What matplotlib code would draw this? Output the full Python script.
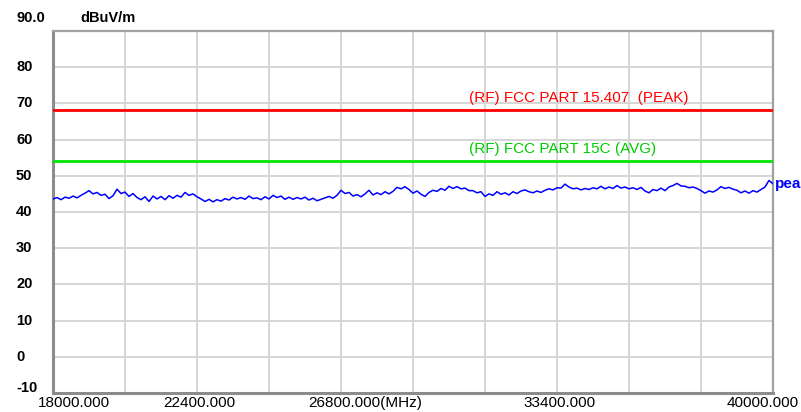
import numpy as np
import matplotlib.pyplot as plt

plt.rcParams['font.family'] = ['Liberation Sans', 'DejaVu Sans']

# sweep range (MHz) and measured peak trace (dBuV/m)
f_start, f_stop = 18000.0, 40000.0
peak = [
    43.6, 44.0, 43.4, 44.1, 43.8, 44.4, 43.9, 44.6, 45.2, 45.9,
    45.0, 45.4, 44.6, 44.9, 43.7, 44.5, 46.3, 45.1, 45.5, 44.3,
    45.1, 44.0, 43.4, 44.2, 42.9, 44.4, 43.6, 44.3, 43.4, 44.5,
    43.8, 44.6, 44.1, 45.4, 44.6, 45.0, 44.2, 43.6, 42.9, 43.5,
    42.8, 43.4, 43.0, 43.7, 43.3, 44.1, 43.6, 44.0, 43.5, 44.4,
    43.7, 43.9, 43.4, 44.2, 43.6, 44.6, 44.0, 44.4, 43.5, 44.1,
    43.5, 44.0, 43.6, 44.1, 43.3, 43.8, 43.1, 43.5, 43.9, 44.3,
    43.8, 44.6, 46.0, 45.1, 45.4, 44.4, 44.8, 44.2, 45.0, 46.0,
    44.7, 45.3, 44.8, 45.6, 45.0, 45.7, 46.8, 46.4, 47.0, 46.2,
    45.2, 45.8, 44.9, 44.3, 45.4, 46.0, 45.7, 46.5, 46.0, 47.1,
    46.5, 47.0, 46.4, 46.6, 45.9, 45.9, 45.3, 45.6, 44.3, 45.0,
    44.6, 45.6, 44.9, 45.3, 44.7, 45.6, 45.1, 45.8, 46.1, 45.6,
    45.3, 45.8, 45.4, 46.0, 46.4, 46.1, 46.7, 46.6, 47.7, 46.9,
    46.4, 46.6, 46.1, 46.5, 46.2, 46.7, 46.4, 47.1, 46.4, 46.9,
    46.5, 47.3, 46.6, 46.9, 46.4, 46.7, 46.2, 46.8, 45.8, 45.3,
    46.2, 45.9, 46.6, 45.9, 46.9, 47.3, 47.9, 47.2, 47.1, 46.7,
    46.9, 46.5, 45.9, 45.2, 45.8, 45.5, 46.1, 47.0, 46.5, 46.8,
    46.3, 46.0, 45.3, 45.8, 45.2, 45.9, 45.5, 46.2, 46.9, 48.7,
    47.8,
]
freq = np.linspace(f_start, f_stop, len(peak))

# limit lines
limit_peak = 68.2
limit_avg = 54.0
limit_peak_label = '(RF) FCC PART 15.407  (PEAK)'
limit_avg_label = '(RF) FCC PART 15C (AVG)'
limit_label_freq = 30700

y_ticks = [-10, 0, 10, 20, 30, 40, 50, 60, 70, 80, 90]
y_labels = ['-10', '0', '10', '20', '30', '40', '50', '60', '70', '80', '90.0']
x_label_pos = [18000, 22400, 26800, 33400, 40000]
x_labels = ['18000.000', '22400.000', '26800.000(MHz)', '33400.000', '40000.000']

fig = plt.figure(figsize=(8.01, 4.12), dpi=100)
ax = fig.add_axes([0.0662, 0.0461, 0.8988, 0.8787])

ax.set_xlim(f_start, f_stop)
ax.set_ylim(-10, 90)

# 10 x 10 grid
ax.set_xticks(np.linspace(f_start, f_stop, 11))
ax.set_yticks(y_ticks)
ax.grid(True, color='#d3d3d3', linewidth=1.3)
ax.tick_params(length=0, labelbottom=False, labelleft=False)
for side in ['left', 'bottom']:
    ax.spines[side].set_color('#8c8c8c')
    ax.spines[side].set_linewidth(2.2)
for side in ['top', 'right']:
    ax.spines[side].set_color('#a0a0a0')
    ax.spines[side].set_linewidth(1.6)

ax.axhline(limit_peak, color='#ff0000', linewidth=2.0, zorder=3)
ax.axhline(limit_avg, color='#00e600', linewidth=2.0, zorder=3)
ax.plot(freq, peak, color='#0000ff', linewidth=1.1, zorder=4)

ax.annotate(limit_peak_label, (limit_label_freq, limit_peak), xytext=(0, 5),
            textcoords='offset pixels', color='#ff0000', fontsize=11,
            va='bottom', ha='left', annotation_clip=False)
ax.annotate(limit_avg_label, (limit_label_freq, limit_avg), xytext=(0, 5),
            textcoords='offset pixels', color='#00cc00', fontsize=11,
            va='bottom', ha='left', annotation_clip=False)
ax.annotate('peak', (f_stop, peak[-1]), xytext=(2, 0),
            textcoords='offset pixels', color='#0000ff', fontsize=11,
            fontweight='bold', va='center', ha='left', annotation_clip=False)

# y labels sit left of the frame, left-aligned
ytrans = ax.get_yaxis_transform()
for v, s in zip(y_ticks, y_labels):
    dy = 0
    if v == 90:
        dy = 13
    elif v == -10:
        dy = 5
    ax.annotate(s, (0, v), xycoords=ytrans, xytext=(-37, dy),
                textcoords='offset pixels', fontsize=10.5, fontweight='bold',
                va='center', ha='left', annotation_clip=False)
ax.annotate('dBuV/m', (0, 90), xycoords=ytrans, xytext=(27, 13),
            textcoords='offset pixels', fontsize=10.5, fontweight='bold',
            va='center', ha='left', annotation_clip=False)

# frequency labels under the frame
xtrans = ax.get_xaxis_transform()
x_offsets = [-15, -34, -33, -34, -46]
for f, s, dx in zip(x_label_pos, x_labels, x_offsets):
    ax.annotate(s, (f, 0), xycoords=xtrans, xytext=(dx, -10),
                textcoords='offset pixels', fontsize=11,
                va='center', ha='left', annotation_clip=False)

fig.savefig('out.png', dpi=100)
